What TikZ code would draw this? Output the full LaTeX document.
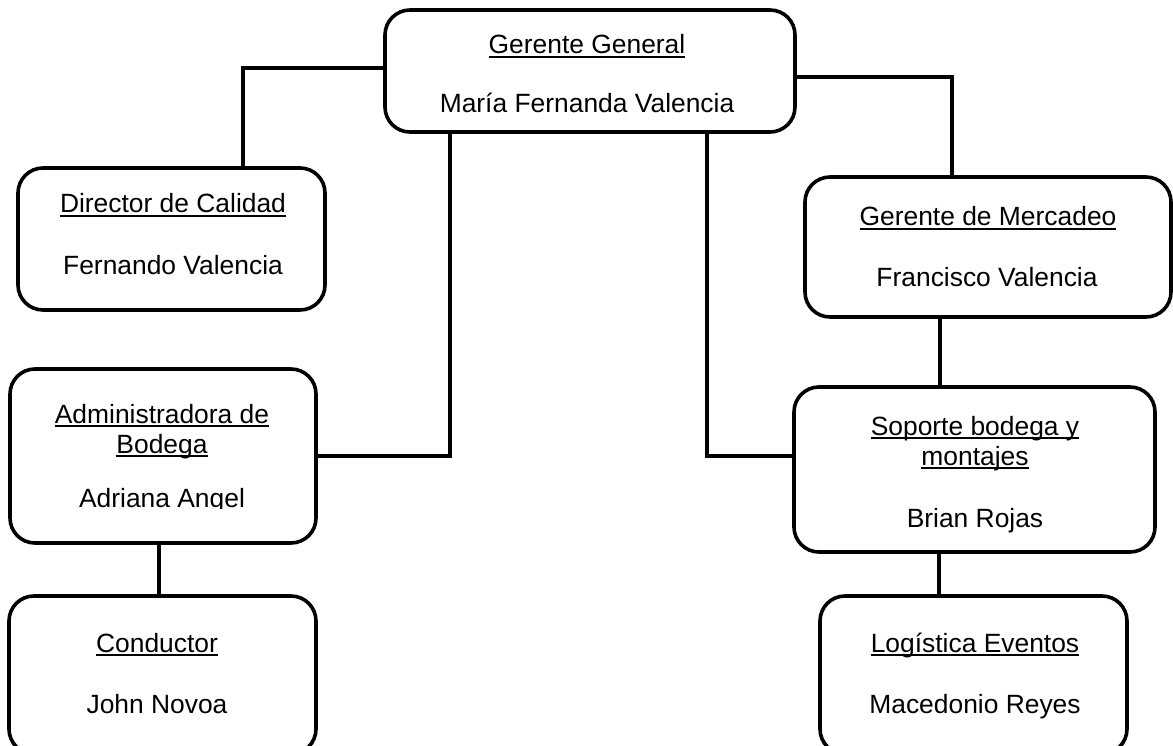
\documentclass[tikz,border=0pt]{standalone}
\usepackage{fontspec}
\setmainfont{Liberation Sans}
\newlength\ulwd
\newcommand\ulx[1]{\settowidth\ulwd{#1}\rlap{\rule[-0.165em]{\ulwd}{0.075em}}#1}
\begin{document}
\begin{tikzpicture}[x=1pt,y=-1pt,
  box/.style={draw=black, line width=3.6pt, rounded corners=25pt, inner sep=0pt, outer sep=0pt},
  conn/.style={draw=black, line width=3.2pt},
  lbl/.style={inner sep=0pt, outer sep=0pt, anchor=base, font=\fontsize{26.4}{30}\selectfont}]
\useasboundingbox (0,0) rectangle (1173,746);
\clip (0,0) rectangle (1173,746);
% boxes
\node[box, minimum width=410pt, minimum height=122pt] (gg) at (590,71) {};
\node[box, minimum width=307pt, minimum height=142pt] (dir) at (171.5,239) {};
\node[box, minimum width=366pt, minimum height=140pt] (mer) at (988,247) {};
\node[box, minimum width=306pt, minimum height=174pt] (adm) at (163,456) {};
\node[box, minimum width=361pt, minimum height=165pt] (sop) at (974.5,469.5) {};
\node[box, minimum width=307pt, minimum height=158pt] (con) at (162.5,675) {};
\node[box, minimum width=307pt, minimum height=158pt] (log) at (973.5,675) {};
% junction coordinates
\coordinate (j1) at (243,68);
\coordinate (j2) at (952,77);
\coordinate (j3) at (450,456);
\coordinate (j4) at (707,456);
\coordinate (j5) at (940,0);
\coordinate (j6) at (159,0);
\coordinate (j7) at (939,0);
% connectors
\draw[conn] (gg.west |- j1) -| (j1 |- dir.north);
\draw[conn] (gg.east |- j2) -| (j2 |- mer.north);
\draw[conn] (j3 |- gg.south) |- (adm.east |- j3);
\draw[conn] (j4 |- gg.south) |- (sop.west |- j4);
\draw[conn] (j5 |- mer.south) -- (j5 |- sop.north);
\draw[conn] (j6 |- adm.south) -- (j6 |- con.north);
\draw[conn] (j7 |- sop.south) -- (j7 |- log.north);
% texts
\node[lbl] (ggt) at (587,54) {\ulx{Gerente General}};
\node[lbl] (ggn) at (587,113) {María Fernanda Valencia};
\node[lbl] (dirt) at (173,213) {\ulx{Director de Calidad}};
\node[lbl] (dirn) at (173,274) {Fernando Valencia};
\node[lbl] (mert) at (988,226) {\ulx{Gerente de Mercadeo}};
\node[lbl] (mern) at (987,287) {Francisco Valencia};
\node[lbl] (admt1) at (162,423) {\ulx{Administradora de}};
\node[lbl] (admt2) at (162,453) {\ulx{Bodega}};
\begin{scope}
\clip (0,369) rectangle (400,508.5);
\node[lbl] (admn) at (162,507) {Adriana Angel};
\end{scope}
\node[lbl] (sopt1) at (975,435) {\ulx{Soporte bodega y}};
\node[lbl] (sopt2) at (975,465) {\ulx{montajes}};
\node[lbl] (sopn) at (975,527) {Brian Rojas};
\node[lbl] (cont) at (157,652) {\ulx{Conductor}};
\node[lbl] (conn) at (157,713) {John Novoa};
\node[lbl] (logt) at (975,652) {\ulx{Logística Eventos}};
\node[lbl] (logn) at (975,713) {Macedonio Reyes};
\end{tikzpicture}
\end{document}
